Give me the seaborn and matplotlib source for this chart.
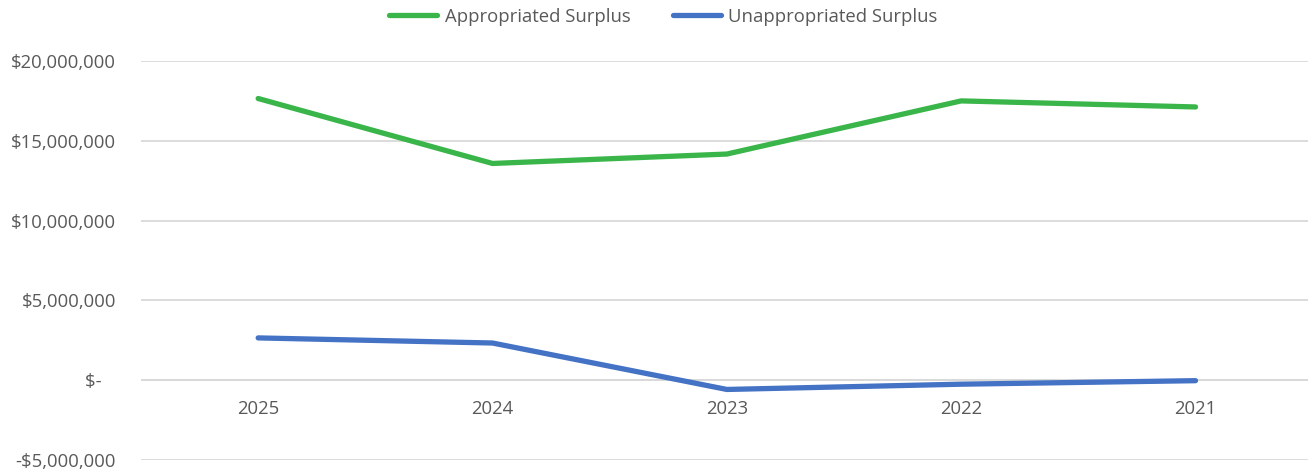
import matplotlib
matplotlib.use("Agg")
import matplotlib.pyplot as plt
import matplotlib.ticker as mticker
import seaborn as sns
import pandas as pd

years = ["2025", "2024", "2023", "2022", "2021"]
appropriated = [17_650_000, 13_580_000, 14_170_000, 17_500_000, 17_120_000]
unappropriated = [2_650_000, 2_330_000, -580_000, -250_000, -30_000]
series_names = ["Appropriated Surplus", "Unappropriated Surplus"]
colors = ["#3AB54A", "#4472C4"]
y_ticks = [-5_000_000, 0, 5_000_000, 10_000_000, 15_000_000, 20_000_000]

df = pd.DataFrame({
    "Year": years * 2,
    "Value": appropriated + unappropriated,
    "Series": [series_names[0]] * len(years) + [series_names[1]] * len(years),
})

sns.set_theme(style="white")
plt.rcParams["font.family"] = ["Open Sans", "DejaVu Sans"]
text_color = "#595959"
fs = 13.3

fig = plt.figure(figsize=(13.08, 4.72), dpi=100)
ax = fig.add_axes([141 / 1308, 1 - 460 / 472, 1 - 141 / 1308, (460 - 61) / 472])

sns.lineplot(data=df, x="Year", y="Value", hue="Series", palette=colors,
             sort=False, linewidth=3.8, ax=ax, legend=False,
             solid_capstyle="round", solid_joinstyle="round", zorder=3)

ax.set_xlim(-0.5, 4.48)
ax.set_ylim(y_ticks[0], y_ticks[-1])
ax.set_yticks(y_ticks)


def money(v, pos=None):
    if v == 0:
        return "$-   "
    s = "${:,.0f}".format(abs(v))
    return "-" + s if v < 0 else s


ax.yaxis.set_major_formatter(mticker.FuncFormatter(money))
ax.grid(axis="y", color="#D9D9D9", linewidth=1.3, zorder=0)
ax.axhline(0, color="#D9D9D9", linewidth=1.3, zorder=1)
for sp in ax.spines.values():
    sp.set_visible(False)
ax.set_xlabel("")
ax.set_ylabel("")
ax.tick_params(axis="y", length=0, pad=18, labelsize=fs, labelcolor=text_color)
ax.xaxis.set_ticks_position("none")
# category labels sit just below the zero line
ax.set_xticks(range(len(years)))
ax.set_xticklabels([])
for i, y in enumerate(years):
    ax.annotate(y, xy=(i, 0), xytext=(0, -21), textcoords="offset points",
                ha="center", va="center", fontsize=fs, color=text_color)

handles = [plt.Line2D([], [], color=c, linewidth=3.8, solid_capstyle="round")
           for c in colors]
fig.legend(handles, series_names, loc="center",
           bbox_to_anchor=(663.5 / 1308, 1 - 16.5 / 472),
           ncol=2, frameon=False, fontsize=fs, labelcolor=text_color,
           handlelength=2.6, columnspacing=2.3, handletextpad=0.4)

fig.savefig("out.png", dpi=100)
